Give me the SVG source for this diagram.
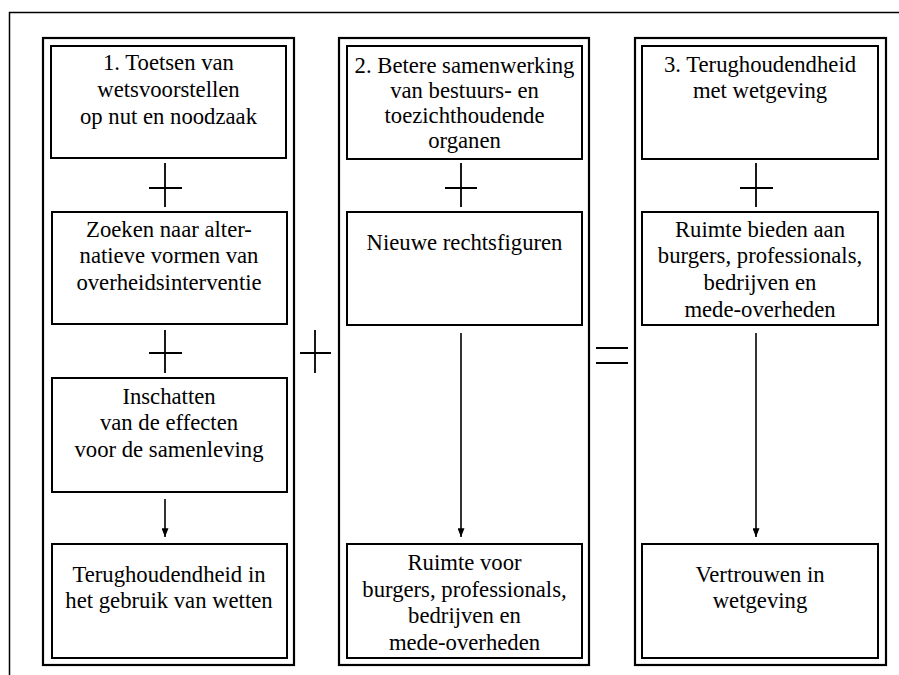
<svg xmlns="http://www.w3.org/2000/svg" width="899" height="675" viewBox="0 0 899 675">
  <style>
    .frame { fill: none; stroke: #000; stroke-width: 1.5; }
    .col { fill: none; stroke: #000; stroke-width: 2.2; }
    .box { fill: #fff; stroke: #000; stroke-width: 2; }
    .sym { fill: none; stroke: #000; stroke-width: 1.8; }
    .arrow { fill: none; stroke: #000; stroke-width: 1.6; marker-end: url(#head); }
    text { font-family: "Liberation Serif", "Times New Roman", serif; font-size: 22.7px; fill: #000; text-anchor: middle; }
  </style>
  <defs>
    <marker id="head" viewBox="0 0 10 8" refX="10" refY="4" markerWidth="9" markerHeight="7" markerUnits="userSpaceOnUse" orient="auto">
      <path d="M0,0 L10,4 L0,8 z" fill="#000"/>
    </marker>
  </defs>
  <rect width="899" height="675" fill="#fff"/>

  <!-- page frame, open at right and bottom -->
  <path class="frame" d="M9.5,675 V12.5 H899"/>

  <!-- column frames -->
  <g id="column-1"><rect class="col" x="43" y="38" width="251" height="627"/></g>
  <g id="column-2"><rect class="col" x="339" y="38" width="250" height="627"/></g>
  <g id="column-3"><rect class="col" x="635" y="38" width="251" height="627"/></g>

  <!-- connectors and operators -->
  <g id="connectors">
    <!-- plus signs inside column 1 -->
    <path class="sym" d="M165,163 V207 M149,188 H182"/>
    <path class="sym" d="M165,330 V373 M149,353 H182"/>
    <!-- plus sign inside column 2 -->
    <path class="sym" d="M461,163 V207 M445,188 H477"/>
    <!-- plus sign inside column 3 -->
    <path class="sym" d="M756,163 V207 M740,188 H773"/>
    <!-- plus between columns 1 and 2 -->
    <path class="sym" d="M315,330 V373 M300,353 H331"/>
    <!-- equals between columns 2 and 3 -->
    <path class="sym" d="M596,348 H628 M596,363 H628"/>
    <!-- arrows -->
    <path class="arrow" d="M165,499 V537"/>
    <path class="arrow" d="M461,333 V537"/>
    <path class="arrow" d="M756,333 V537"/>
  </g>

  <!-- column 1 -->
  <g id="toetsen">
    <rect class="box" x="51" y="46" width="235" height="112"/>
    <text x="168.5" y="70">1. Toetsen van</text>
    <text x="168.5" y="97">wetsvoorstellen</text>
    <text x="168.5" y="124">op nut en noodzaak</text>
  </g>
  <g id="alternatieven">
    <rect class="box" x="52" y="212" width="235" height="112"/>
    <text x="169" y="237">Zoeken naar alter-</text>
    <text x="169" y="263">natieve vormen van</text>
    <text x="169" y="290">overheidsinterventie</text>
  </g>
  <g id="effecten">
    <rect class="box" x="52" y="378" width="235" height="114"/>
    <text x="169" y="404">Inschatten</text>
    <text x="169" y="430">van de effecten</text>
    <text x="169" y="457">voor de samenleving</text>
  </g>
  <g id="terughoudendheid-wetten">
    <rect class="box" x="52" y="544" width="235" height="114"/>
    <text x="169" y="582">Terughoudendheid in</text>
    <text x="169" y="608">het gebruik van wetten</text>
  </g>

  <!-- column 2 -->
  <g id="samenwerking">
    <rect class="box" x="347" y="46" width="235" height="113"/>
    <text x="464.5" y="73">2. Betere samenwerking</text>
    <text x="464.5" y="98">van bestuurs- en</text>
    <text x="464.5" y="123">toezichthoudende</text>
    <text x="464.5" y="148">organen</text>
  </g>
  <g id="rechtsfiguren">
    <rect class="box" x="347" y="212" width="235" height="113"/>
    <text x="464.5" y="250">Nieuwe rechtsfiguren</text>
  </g>
  <g id="ruimte-voor">
    <rect class="box" x="347" y="544" width="235" height="114"/>
    <text x="464.5" y="570">Ruimte voor</text>
    <text x="464.5" y="597">burgers, professionals,</text>
    <text x="464.5" y="623">bedrijven en</text>
    <text x="464.5" y="650">mede-overheden</text>
  </g>

  <!-- column 3 -->
  <g id="terughoudendheid-wetgeving">
    <rect class="box" x="642" y="46" width="236" height="113"/>
    <text x="760" y="72">3. Terughoudendheid</text>
    <text x="760" y="98">met wetgeving</text>
  </g>
  <g id="ruimte-bieden">
    <rect class="box" x="642" y="212" width="236" height="113"/>
    <text x="760" y="237">Ruimte bieden aan</text>
    <text x="760" y="263">burgers, professionals,</text>
    <text x="760" y="290">bedrijven en</text>
    <text x="760" y="317">mede-overheden</text>
  </g>
  <g id="vertrouwen">
    <rect class="box" x="642" y="544" width="236" height="114"/>
    <text x="760" y="582">Vertrouwen in</text>
    <text x="760" y="608">wetgeving</text>
  </g>
</svg>
